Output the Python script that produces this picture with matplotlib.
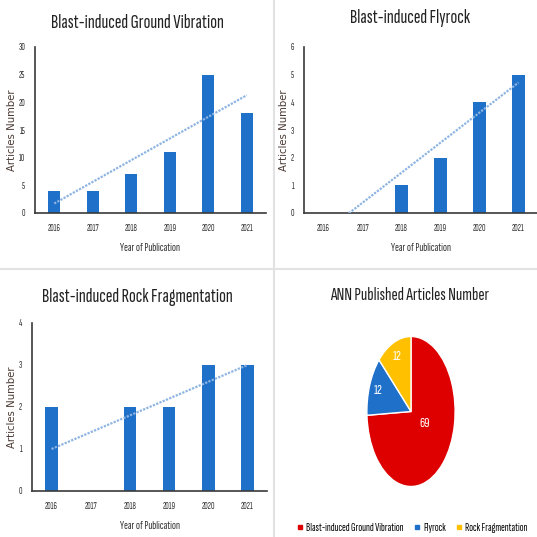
import numpy as np
import matplotlib
matplotlib.use('Agg')
import matplotlib.pyplot as plt
import matplotlib.font_manager as fm
from matplotlib.lines import Line2D

years = ['2016', '2017', '2018', '2019', '2020', '2021']
vibration = [4, 4, 7, 11, 25, 18]
flyrock = [0, 0, 1, 2, 4, 5]
fragmentation = [2, 0, 2, 2, 3, 3]

pie_labels = ['Blast-induced Ground Vibration', 'Flyrock', 'Rock Fragmentation']
pie_values = [69, 12, 12]

bar_color = '#1F70C8'
trend_color = '#8DB4E2'
pie_colors = ['#DE0000', '#1F70C8', '#FFC000']

# schmale Schrift (das Original ist horizontal gestaucht)
installed = set(f.name for f in fm.fontManager.ttflist)
narrow = [f for f in ['Sofia Sans Extra Condensed', 'Saira ExtraCondensed', 'Roboto Condensed'] if f in installed]
plt.rcParams['font.family'] = narrow[:1] + ['DejaVu Sans']

fig = plt.figure(figsize=(5.37, 5.37), dpi=100)
W = 537.0


def px_axes(left, top, right, bottom):
    return fig.add_axes([left / W, 1 - bottom / W, (right - left) / W, (bottom - top) / W])


def bar_panel(ax, values, title, ymax, ystep, title_x, title_y):
    x = np.arange(len(years))
    ax.bar(x, values, width=0.32, color=bar_color, zorder=2)
    # lineare Trendlinie
    k, b = np.polyfit(x, values, 1)
    ax.plot(x, k * x + b, linestyle=(0, (1, 0.6)), color=trend_color, lw=1.6, zorder=3)
    ax.set_xlim(-0.5, len(years) - 0.5)
    ax.set_ylim(0, ymax)
    ax.set_yticks(np.arange(0, ymax + 0.1, ystep))
    ax.set_xticks(x)
    ax.set_xticklabels(years)
    ax.tick_params(length=0, labelsize=7, colors='#333333', pad=8)
    ax.tick_params(axis='y', pad=7)
    for s in ['top', 'right']:
        ax.spines[s].set_visible(False)
    for s in ['left', 'bottom']:
        ax.spines[s].set_color('#3a3a3a')
        ax.spines[s].set_linewidth(1.2)
    ax.set_xlabel('Year of Publication', fontsize=8.5, color='#333333', labelpad=7)
    ax.set_ylabel('Articles Number', fontsize=7.3, color='#4a3a33', labelpad=1,
                  family='DejaVu Sans')
    fig.text(title_x / W, 1 - title_y / W, title,
             fontsize=14.5, color='#222222', ha='center', va='center')


ax1 = px_axes(35, 47, 266, 213)
bar_panel(ax1, vibration, 'Blast-induced Ground Vibration', 30, 5, 137, 23)

ax2 = px_axes(304, 47, 538, 213)
bar_panel(ax2, flyrock, 'Blast-induced Flyrock', 6, 1, 410, 18)

ax3 = px_axes(32, 323, 267, 491)
bar_panel(ax3, fragmentation, 'Blast-induced Rock Fragmentation', 4, 1, 137, 297)

# Kreisdiagramm
ax4 = px_axes(366, 335, 456, 488)
total = sum(pie_values)
wedges, texts, autotexts = ax4.pie(pie_values, colors=pie_colors, startangle=90, counterclock=False,
                                   autopct=lambda p: '%d' % round(p * total / 100), pctdistance=0.8,
                                   wedgeprops=dict(edgecolor='white', linewidth=1))
for t in autotexts:
    t.set_color('white')
    t.set_fontsize(10.5)
# die große Zahl liegt im Original näher an der Mitte
px, py = autotexts[0].get_position()
autotexts[0].set_position((px * 0.55, py * 0.3))
ax4.set_aspect('auto')
ax4.set_xlim(-1.02, 1.02)
ax4.set_ylim(-1.02, 1.02)
fig.text(410 / W, 1 - 295 / W, 'ANN Published Articles Number', fontsize=13.5,
         color='#222222', ha='center', va='center')

handles = [Line2D([], [], marker='s', linestyle='', color=c, markersize=3.2) for c in pie_colors]
fig.legend(handles, pie_labels, loc='center', bbox_to_anchor=(411 / W, 1 - 528 / W), ncol=3,
           frameon=False, fontsize=8.2, handletextpad=0.1, columnspacing=0.7, handlelength=0.9)

# Trennlinien
fig.add_artist(Line2D([0, 1], [1 - 269 / W, 1 - 269 / W], color='#e2e2e2', lw=1.5))
fig.add_artist(Line2D([274 / W, 274 / W], [0, 1], color='#e2e2e2', lw=1.5))

fig.savefig('out.png', dpi=100)
